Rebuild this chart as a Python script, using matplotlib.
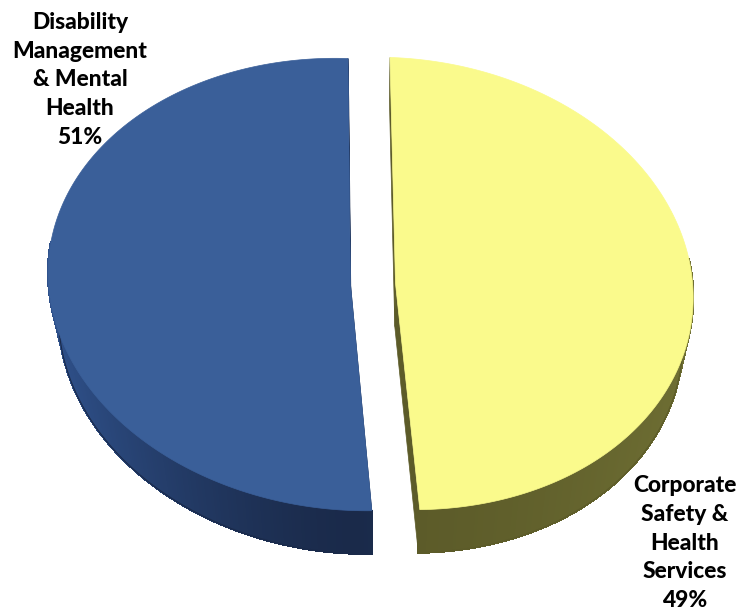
import numpy as np
import matplotlib.pyplot as plt
from matplotlib.patches import Polygon
from matplotlib.collections import PolyCollection
import matplotlib.colors as mcolors

# ---- data ----
labels = ["Disability\nManagement\n& Mental\nHealth", "Corporate\nSafety &\nHealth\nServices"]
values = [51, 49]
top_colors = ["#3A5F99", "#FAFA8C"]
side_light = ["#2F518B", "#6E6E33"]
side_dark = ["#1A2A4A", "#5C5B29"]
cut_colors = ["#1A2A4A", "#5C5B29"]
label_pos = [(80, 80), (685, 543)]

# ---- geometry (styling) ----
X0, Y0 = 373, 284
A, B = 300, 226
P = 0.008      # slight perspective (left side nearer)
S = -4
T = 10
H = 43
KB = 0.968
EX = 22.5      # explode distance in px
Q = 0.067      # explode grows toward the viewer

fig = plt.figure(figsize=(7.37, 6.13), dpi=100)
ax = fig.add_axes([0, 0, 1, 1])
ax.set_xlim(0, 737)
ax.set_ylim(613, 0)
ax.axis('off')


def proj(cx, cy, mid, bottom=False):
    x = X0 + A * cx * (1 - P * cx) + S * cy
    y = Y0 - B * cy + T * cx
    x += EX * (1 - Q * cy) * np.cos(mid)
    y -= EX * (B / A) * np.sin(mid)
    if bottom:
        x = X0 + (x - X0) * KB
        y = y + H
    return x, y


fr = np.array(values, float) / np.sum(values)
start = 90.0
bounds = start + 360 * np.concatenate([[0], np.cumsum(fr)])

slices = []
for i in range(len(values)):
    t1, t2 = bounds[i], bounds[i + 1]
    mid = np.radians((t1 + t2) / 2)
    slices.append((t1, t2, mid))

# cut faces
for i, (t1, t2, mid) in enumerate(slices):
    for t in (t1, t2):
        r = np.radians(t)
        c = proj(0, 0, mid)
        p = proj(np.cos(r), np.sin(r), mid)
        cb = proj(0, 0, mid, True)
        pb = proj(np.cos(r), np.sin(r), mid, True)
        ax.add_patch(Polygon([c, p, pb, cb], closed=True, facecolor=cut_colors[i],
                             edgecolor=cut_colors[i], lw=0.5, zorder=1))

# side walls (shaded strips + clean outline)
for i, (t1, t2, mid) in enumerate(slices):
    th = np.linspace(t1, t2, 300)
    c_l = np.array(mcolors.to_rgb(side_light[i]))
    c_d = np.array(mcolors.to_rgb(side_dark[i]))
    polys, cols = [], []
    for a0, a1 in zip(th[:-1], th[1:]):
        am = np.radians((a0 + a1) / 2)
        if np.sin(am) > 0.15:
            continue
        r0, r1 = np.radians(a0), np.radians(a1)
        p0 = proj(np.cos(r0), np.sin(r0), mid)
        p1 = proj(np.cos(r1), np.sin(r1), mid)
        q0 = proj(np.cos(r0), np.sin(r0), mid, True)
        q1 = proj(np.cos(r1), np.sin(r1), mid, True)
        k = np.clip(abs(np.cos(am)), 0, 1) ** 1.5
        polys.append([p0, p1, q1, q0])
        cols.append(c_d + (c_l - c_d) * k)
    pc = PolyCollection(polys, facecolors=cols, edgecolors=cols, linewidths=1.0,
                        antialiased=False, zorder=2)
    ax.add_collection(pc)
    thv = np.radians(th[np.sin(np.radians(th)) <= 0.15])
    if len(thv):
        edge = [proj(np.cos(t), np.sin(t), mid, True) for t in thv]
        ex, ey = zip(*edge)
        ax.plot(ex, ey, color=side_dark[i], lw=0.8, zorder=2.5, solid_capstyle='butt')

# top faces
for i, (t1, t2, mid) in enumerate(slices):
    th = np.radians(np.linspace(t1, t2, 400))
    pts = [proj(0, 0, mid)] + [proj(np.cos(t), np.sin(t), mid) for t in th]
    ax.add_patch(Polygon(pts, closed=True, facecolor=top_colors[i],
                         edgecolor=top_colors[i], lw=0.5, zorder=3))

# labels
for i in range(len(values)):
    ax.text(label_pos[i][0], label_pos[i][1], f"{labels[i]}\n{values[i]}%",
            ha='center', va='center', multialignment='center',
            fontsize=16.4, fontweight='black', family='Lato', linespacing=1.46,
            color='black', zorder=5)

fig.savefig('out.png', dpi=100)
